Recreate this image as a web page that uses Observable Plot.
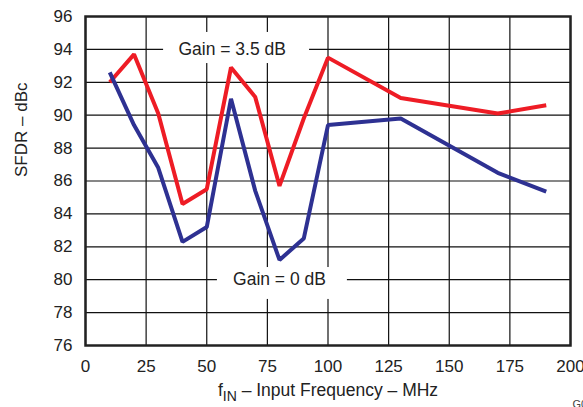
<!DOCTYPE html>
<html><head><meta charset="utf-8">
<script src="https://cdn.jsdelivr.net/npm/d3@7"></script>
<script src="https://cdn.jsdelivr.net/npm/@observablehq/plot@0.6"></script>
<style>
body{margin:0;background:#fff;overflow:hidden;}
#chart svg{font-family:"Liberation Sans",Arial,Helvetica,sans-serif;}
</style>
</head><body><div id="chart"></div>
<script>
// Data
const freq = [10, 20, 30, 40, 50, 60, 70, 80, 90, 100, 130, 170, 190];
const sfdrGain35 = [92.0, 93.7, 90.1, 84.6, 85.5, 92.9, 91.1, 85.7, 89.8, 93.5, 91.05, 90.1, 90.6];
const sfdrGain0 = [92.6, 89.4, 86.8, 82.3, 83.2, 91.0, 85.4, 81.2, 82.5, 89.4, 89.8, 86.5, 85.35];
const seriesNames = ["Gain = 3.5 dB", "Gain = 0 dB"];
const xTicks = [0, 25, 50, 75, 100, 125, 150, 175, 200];
const yTicks = [76, 78, 80, 82, 84, 86, 88, 90, 92, 94, 96];
const xTitle = "fIN – Input Frequency – MHz";
const yTitle = "SFDR – dBc";
const figureId = "G013";

// annotation placement (data units)
const labelX = [60.5, 80];
const labelY = [94, 80];
const boxX1 = [32.2, 54.4], boxX2 = [92.4, 108.0];
const boxY1 = [93.14, 78.8], boxY2 = [95.03, 80.74];

const colors = ["#ee1c25", "#2e3192"];
const rows = [];
freq.forEach((f, i) => rows.push({f, v: sfdrGain35[i], s: seriesNames[0]}));
freq.forEach((f, i) => rows.push({f, v: sfdrGain0[i], s: seriesNames[1]}));
const labels = seriesNames.map((t, i) => ({t, x: labelX[i], y: labelY[i], x1: boxX1[i], x2: boxX2[i], y1: boxY1[i], y2: boxY2[i]}));

const chart = Plot.plot({
  width: 583, height: 407,
  marginLeft: 85, marginRight: 13, marginTop: 16, marginBottom: 62,
  style: {fontSize: "17px", color: "#222", background: "white", overflow: "visible"},
  x: {domain: [0, 200], ticks: xTicks, tickSize: 0, tickPadding: 14, label: null},
  y: {domain: [76, 96], ticks: yTicks, tickSize: 0, tickPadding: 13, label: null},
  color: {domain: seriesNames, range: colors},
  marks: [
    Plot.ruleX(xTicks, {stroke: "#111", strokeWidth: 1.2}),
    Plot.ruleY(yTicks, {stroke: "#111", strokeWidth: 1.2}),
    Plot.rect(labels, {x1: "x1", x2: "x2", y1: "y1", y2: "y2", fill: "white"}),
    Plot.line(rows, {x: "f", y: "v", z: "s", stroke: "s", strokeWidth: 4, strokeLinejoin: "miter", strokeLinecap: "butt"}),
    Plot.text(labels, {x: "x", y: "y", text: "t", fontSize: 17.5, fill: "#222"}),
    Plot.frame({stroke: "#222", strokeWidth: 2.5}),
    Plot.text([yTitle], {frameAnchor: "left", dx: -64, dy: -4, rotate: -90, fontSize: 17, fill: "#222"}),
    Plot.text([xTitle], {frameAnchor: "bottom", dy: 50, fontSize: 17.5, fill: "#222"}),
    Plot.text([figureId], {frameAnchor: "bottom-right", dx: 2, dy: 55, textAnchor: "start", lineAnchor: "top", fontSize: 11, fill: "#444"})
  ]
});
document.getElementById("chart").appendChild(chart);

// subscript for f_IN
d3.select(chart).selectAll("text").each(function() {
  const el = d3.select(this);
  if (el.text() === xTitle) {
    el.text(null);
    el.append("tspan").text("f");
    el.append("tspan").attr("dy", 5).attr("font-size", "0.8em").text("IN");
    el.append("tspan").attr("dy", -5).text(" – Input Frequency – MHz");
  }
});
</script>
</body></html>
